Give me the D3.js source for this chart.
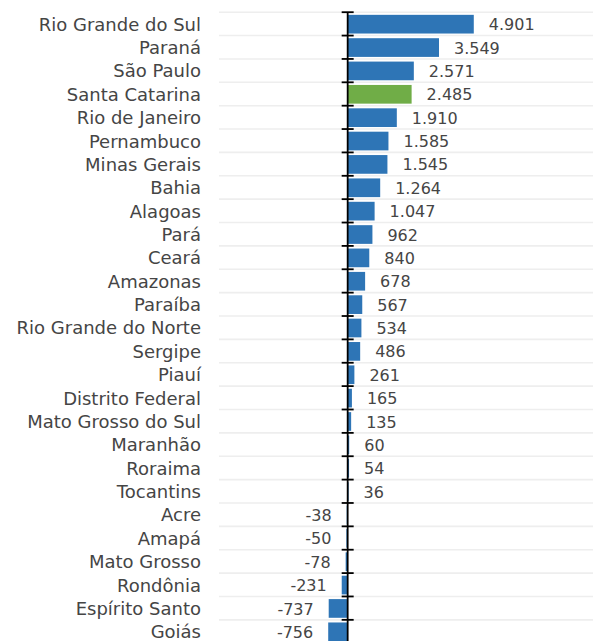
<!DOCTYPE html>
<html>
<head>
<meta charset="utf-8">
<script src="https://cdn.jsdelivr.net/npm/d3@7"></script>
<style>
  html, body { margin: 0; padding: 0; background: #ffffff; }
  svg { display: block; }
  text { font-family: "DejaVu Sans", sans-serif; fill: #454545; }
</style>
</head>
<body>
<svg id="chart" width="593" height="641"></svg>
<script>
const categories = ["Rio Grande do Sul","Paraná","São Paulo","Santa Catarina","Rio de Janeiro","Pernambuco","Minas Gerais","Bahia","Alagoas","Pará","Ceará","Amazonas","Paraíba","Rio Grande do Norte","Sergipe","Piauí","Distrito Federal","Mato Grosso do Sul","Maranhão","Roraima","Tocantins","Acre","Amapá","Mato Grosso","Rondônia","Espírito Santo","Goiás"];
const values = [4901,3549,2571,2485,1910,1585,1545,1264,1047,962,840,678,567,534,486,261,165,135,60,54,36,-38,-50,-78,-231,-737,-756];
const highlighted = ["Santa Catarina"];
const xDomain = [-5000, 10000];

const colors = { bar: "#2E75B6", highlight: "#70AD47", grid: "#EEEEEE", axis: "#000000" };

const svg = d3.select("#chart");
const fmt = d3.formatLocale({decimal: ",", thousands: ".", grouping: [3], currency: ["R$", ""], minus: "-"}).format(",d");

const x = d3.scaleLinear().domain(xDomain).range([219, 605]);
const y = d3.scaleBand().domain(categories).range([12.5, 643.5]).paddingInner(0.2).paddingOuter(0.1);
const step = y.step();
const rowTop = d => y(d) - y.paddingInner() * step / 2 - 0.3;

// grid separators
const bounds = categories.map(c => rowTop(c)).concat([rowTop(categories[categories.length-1]) + step]);
svg.append("g").selectAll("line").data(bounds).join("line")
  .attr("x1", x.range()[0]).attr("x2", x.range()[1])
  .attr("y1", d => d).attr("y2", d => d)
  .attr("stroke", colors.grid).attr("stroke-width", 1.6);

// bars
const data = categories.map((c, i) => ({c, v: values[i]}));
svg.append("g").selectAll("rect").data(data).join("rect")
  .attr("x", d => x(Math.min(0, d.v)))
  .attr("width", d => Math.abs(x(d.v) - x(0)))
  .attr("y", d => y(d.c))
  .attr("height", y.bandwidth())
  .attr("fill", d => highlighted.includes(d.c) ? colors.highlight : colors.bar);

// axis line and ticks
const x0 = x(0);
svg.append("line").attr("x1", x0).attr("x2", x0)
  .attr("y1", bounds[0]).attr("y2", 645)
  .attr("stroke", colors.axis).attr("stroke-width", 1.8);
svg.append("g").selectAll("line").data(bounds).join("line")
  .attr("x1", x0 - 6).attr("x2", x0 + 6)
  .attr("y1", d => d).attr("y2", d => d)
  .attr("stroke", colors.axis).attr("stroke-width", 1.8);

// category labels
svg.append("g").selectAll("text").data(data).join("text")
  .attr("x", 201)
  .attr("y", d => y(d.c) + y.bandwidth() / 2)
  .attr("dy", "0.36em")
  .attr("text-anchor", "end")
  .attr("font-size", 18)
  .text(d => d.c);

// value labels
svg.append("g").selectAll("text").data(data).join("text")
  .attr("x", d => d.v >= 0 ? x(d.v) + 15 : x(d.v) - 15)
  .attr("y", d => y(d.c) + y.bandwidth() / 2)
  .attr("dy", "0.38em")
  .attr("text-anchor", d => d.v >= 0 ? "start" : "end")
  .attr("font-size", 16)
  .text(d => fmt(d.v));
</script>
</body>
</html>
